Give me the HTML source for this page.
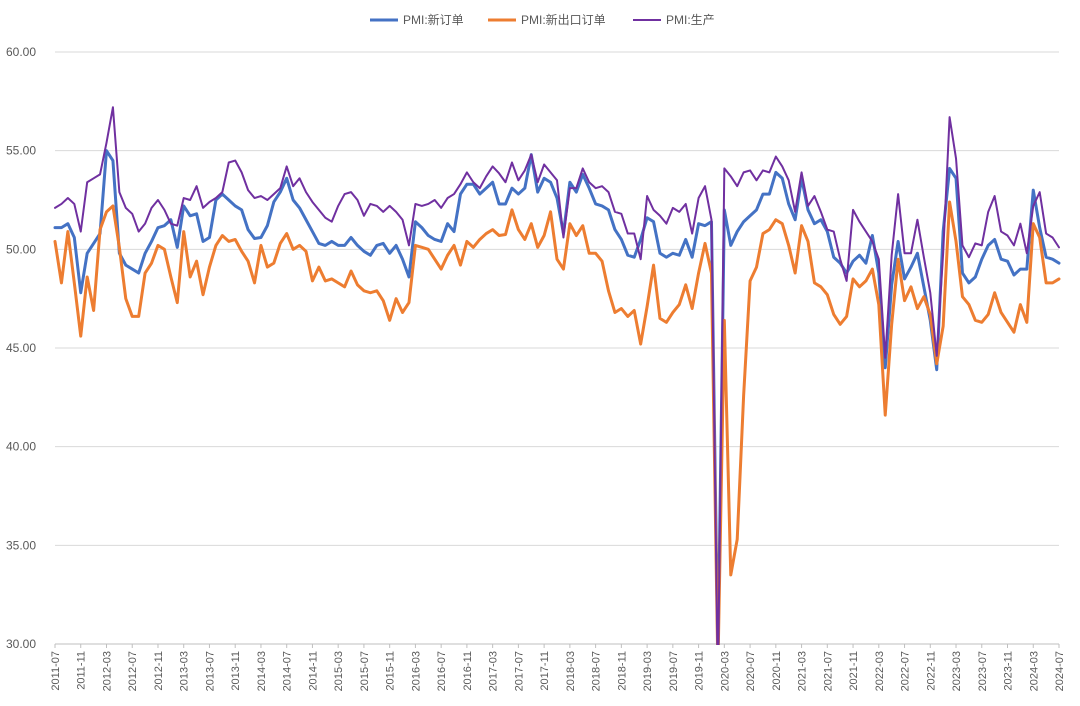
<!DOCTYPE html>
<html><head><meta charset="utf-8"><style>
html,body{margin:0;padding:0;background:#fff;}
svg{display:block;font-family:"Liberation Sans","Noto Sans CJK SC",sans-serif;}
</style></head><body>
<svg id="chart" width="1080" height="706" viewBox="0 0 1080 706">
<defs><clipPath id="plotclip"><rect x="50" y="50" width="1015" height="595"/></clipPath></defs>
<g id="grid"></g>
<g id="yaxis"></g>
<g id="xaxis"></g>
<g id="series" clip-path="url(#plotclip)"></g>
<g id="legend">
  <g>
    <line x1="370" y1="20" x2="398" y2="20" stroke="#4472C4" stroke-width="3"/>
    <text x="403" y="24" font-size="12" fill="#595959">PMI:新订单</text>
  </g>
  <g>
    <line x1="488" y1="20" x2="516" y2="20" stroke="#ED7D31" stroke-width="3"/>
    <text x="521" y="24" font-size="12" fill="#595959">PMI:新出口订单</text>
  </g>
  <g>
    <line x1="633" y1="20" x2="661" y2="20" stroke="#7030A0" stroke-width="2"/>
    <text x="666" y="24" font-size="12" fill="#595959">PMI:生产</text>
  </g>
</g>
</svg>
<script>
const newOrders = [51.1,51.1,51.3,50.6,47.8,49.8,50.3,50.8,55.0,54.5,49.8,49.2,49.0,48.8,49.8,50.4,51.1,51.2,51.5,50.1,52.2,51.7,51.8,50.4,50.6,52.5,52.8,52.5,52.2,
52.0,51.0,50.55,50.6,51.2,52.4,52.9,53.6,52.5,52.1,51.5,50.9,50.3,50.2,50.4,50.2,50.2,50.6,50.2,49.9,49.7,50.2,50.3,49.8,50.2,49.5,48.6,51.4,
51.1,50.7,50.5,50.4,51.3,50.9,52.8,53.3,53.3,52.8,53.1,53.4,52.3,52.3,53.1,52.8,53.1,54.8,52.9,53.6,53.4,52.6,50.8,53.4,52.9,53.8,53.1,52.3,
52.2,52.0,51.0,50.5,49.7,49.6,50.5,51.6,51.4,49.8,49.6,49.8,49.7,50.5,49.6,51.3,51.2,51.4,29.3,52.0,50.2,50.9,51.4,51.7,
52.0,52.8,52.8,53.9,53.6,52.3,51.5,53.6,52.0,51.3,51.5,50.9,49.6,49.3,48.8,49.4,49.7,49.3,50.7,48.8,
44.0,48.2,50.4,48.5,49.1,49.8,48.1,46.4,43.9,50.9,54.1,53.6,48.8,48.3,48.6,49.5,50.2,50.5,49.5,49.4,48.7,49.0,49.0,53.0,51.1,49.6,49.5,49.3];
const newExportOrders = [50.4,48.3,50.9,48.3,45.6,48.6,46.9,51.0,51.9,52.2,50.1,47.5,46.6,46.6,48.8,49.3,50.2,50.0,48.6,47.3,50.9,48.6,49.4,47.7,49.1,50.2,50.7,50.4,50.5,
49.9,49.4,48.3,50.2,49.1,49.3,50.3,50.8,50.0,50.2,49.9,48.4,49.1,48.4,48.5,48.3,48.1,48.9,48.2,47.9,47.8,47.9,47.4,46.4,47.5,46.8,47.3,50.2,
50.1,50.0,49.5,49.0,49.7,50.2,49.2,50.4,50.1,50.5,50.8,51.0,50.7,50.75,52.0,51.0,50.5,51.3,50.1,50.7,51.9,49.5,49.0,51.3,50.7,51.2,49.8,49.8,
49.4,47.9,46.8,47.0,46.6,46.9,45.2,47.1,49.2,46.5,46.3,46.8,47.2,48.2,47.0,48.8,50.3,48.8,28.7,46.4,33.5,35.3,42.6,48.4,
49.1,50.8,51.0,51.5,51.3,50.2,48.8,51.2,50.4,48.3,48.1,47.7,46.7,46.2,46.6,48.5,48.1,48.4,49.0,47.2,
41.6,46.2,49.5,47.4,48.1,47.0,47.6,46.7,44.2,46.1,52.4,50.4,47.6,47.2,46.4,46.3,46.7,47.8,46.8,46.3,45.8,47.2,46.3,51.3,50.6,48.3,48.3,48.5];
const production = [52.1,52.3,52.6,52.3,50.9,53.4,53.6,53.8,55.4,57.2,52.9,52.1,51.8,50.9,51.3,52.1,52.5,52.0,51.3,51.2,52.6,52.5,53.2,52.1,52.4,52.6,52.9,54.4,54.5,
53.9,53.0,52.6,52.7,52.5,52.8,53.1,54.2,53.2,53.6,52.9,52.4,52.0,51.6,51.4,52.2,52.8,52.9,52.5,51.7,52.3,52.2,51.9,52.2,51.9,51.5,50.2,52.3,
52.2,52.3,52.5,52.1,52.6,52.8,53.3,53.9,53.4,53.1,53.7,54.2,53.85,53.4,54.4,53.5,54.0,54.8,53.4,54.3,53.9,53.5,50.6,53.1,53.1,54.1,53.4,53.1,
53.2,52.9,51.9,51.8,50.8,50.8,49.5,52.7,52.0,51.7,51.3,52.1,51.9,52.3,50.8,52.6,53.2,51.5,27.8,54.1,53.7,53.2,53.9,54.0,
53.5,54.0,53.9,54.7,54.2,53.5,51.9,53.9,52.2,52.7,51.9,51.0,50.9,49.5,48.4,52.0,51.4,50.9,50.4,49.5,
44.5,49.7,52.8,49.8,49.8,51.5,49.6,47.8,44.6,49.8,56.7,54.6,50.2,49.6,50.3,50.2,51.9,52.7,50.9,50.7,50.2,51.3,49.8,52.2,52.9,50.8,50.6,50.1];
const yTicks = [30,35,40,45,50,55,60];
const startYear = 2011, startMonth = 7, monthCount = 157, labelStep = 4;

const NS = "http://www.w3.org/2000/svg";
const X0 = 55, X1 = 1059, Y0 = 644, Y1 = 52, YMIN = 30, YMAX = 60;
function xScale(i){ return X0 + (X1 - X0) * i / (monthCount - 1); }
function yScale(v){ return Y0 - (v - YMIN) / (YMAX - YMIN) * (Y0 - Y1); }
function mk(tag, attrs, parent){ const e = document.createElementNS(NS, tag); for (const k in attrs) e.setAttribute(k, attrs[k]); parent.appendChild(e); return e; }

const grid = document.getElementById('grid');
const yaxis = document.getElementById('yaxis');
yTicks.forEach(t => {
  const y = yScale(t);
  const gl = mk('line', {x1: X0, x2: X1, y1: y, y2: y, stroke: t === YMIN ? '#bfbfbf' : '#d9d9d9', 'stroke-width': 1}, grid);
  
  
  const tx = mk('text', {x: 36, y: y + 4, 'text-anchor': 'end', 'font-size': 12, fill: '#595959'}, yaxis);
  tx.textContent = t.toFixed(2);
  
  
});

const xaxis = document.getElementById('xaxis');
for (let i = 0; i < monthCount; i += labelStep) {
  const m0 = startMonth - 1 + i;
  const yr = startYear + Math.floor(m0 / 12), mo = m0 % 12 + 1;
  const x = xScale(i);
  const tk = mk('line', {x1: x, x2: x, y1: Y0, y2: Y0 + 4, stroke: '#bfbfbf'}, xaxis);
  
  
  const tx = mk('text', {x: 0, y: 0, 'text-anchor': 'end', 'font-size': 11, fill: '#595959', transform: 'translate(' + (x + 4) + ',' + (Y0 + 7) + ') rotate(-90)'}, xaxis);
  tx.textContent = yr + '-' + String(mo).padStart(2, '0');
  
  
}

const series = document.getElementById('series');
function drawLine(vals, color, w, name){
  const d = vals.map((v, i) => (i ? 'L' : 'M') + xScale(i).toFixed(2) + ',' + yScale(v).toFixed(2)).join('');
  const p = mk('path', {d: d, fill: 'none', stroke: color, 'stroke-width': w, 'stroke-linejoin': 'round', 'stroke-linecap': 'round'}, series);
  
  
}
drawLine(newOrders, '#4472C4', 3, 'line-new-orders');
drawLine(newExportOrders, '#ED7D31', 3, 'line-new-export-orders');
drawLine(production, '#7030A0', 2, 'line-production');
</script>
</body></html>
